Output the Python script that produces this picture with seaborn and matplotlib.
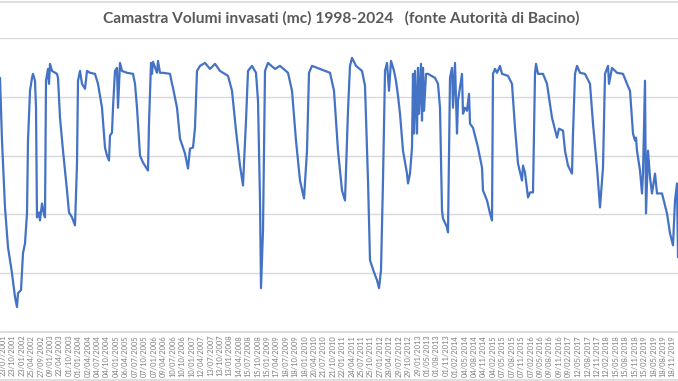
import pandas as pd
import seaborn as sns
import matplotlib.pyplot as plt

# ===============================
# Data (volumes in millions of mc)
# ===============================

date_rilievo = [
    "2001-06-23", "2001-07-13", "2001-08-12", "2001-09-11", "2001-10-21", "2001-11-20",
    "2001-12-10", "2001-12-20", "2002-01-19", "2002-02-08", "2002-02-28", "2002-03-20",
    "2002-03-30", "2002-04-19", "2002-05-09", "2002-05-19", "2002-06-08", "2002-06-18",
    "2002-06-28", "2002-07-18", "2002-07-28", "2002-08-17", "2002-09-06", "2002-09-16",
    "2002-09-26", "2002-10-16", "2002-10-26", "2002-11-05", "2002-11-25", "2003-01-14",
    "2003-01-24", "2003-02-13", "2003-03-15", "2003-04-24", "2003-05-14", "2003-06-13",
    "2003-07-13", "2003-08-02", "2003-08-12", "2003-09-01", "2003-09-21", "2003-10-21",
    "2003-11-10", "2003-12-10", "2004-01-29", "2004-02-28", "2004-04-08", "2004-05-08",
    "2004-05-28", "2004-06-17", "2004-06-27", "2004-07-17", "2004-07-27", "2004-08-16",
    "2004-09-05", "2004-09-15", "2004-10-05", "2004-10-25", "2004-12-14", "2005-02-12",
    "2005-03-04", "2005-03-24", "2005-04-23", "2005-05-23", "2005-07-12", "2005-07-22",
    "2005-08-11", "2005-08-21", "2005-08-31", "2005-10-10", "2005-10-20", "2005-11-09",
    "2005-12-09", "2006-02-17", "2006-03-09", "2006-03-19", "2006-04-28", "2006-05-28",
    "2006-07-17", "2006-08-16", "2006-09-05", "2006-10-05", "2006-10-25", "2006-11-14",
    "2006-12-14", "2007-02-02", "2007-03-24", "2007-05-13", "2007-07-02", "2007-09-20",
    "2007-10-30", "2007-12-09", "2008-01-18", "2008-02-17", "2008-03-18", "2008-04-07",
    "2008-05-17", "2008-06-26", "2008-07-16", "2008-08-05", "2008-08-15", "2008-09-04",
    "2008-09-24", "2008-10-24", "2009-01-02", "2009-02-21", "2009-05-12", "2009-06-21",
    "2009-07-31", "2009-09-09", "2009-10-19", "2009-11-18", "2009-12-08", "2010-01-07",
    "2010-03-28", "2010-07-06", "2010-08-15", "2010-09-24", "2010-11-03", "2010-12-03",
    "2011-01-02", "2011-01-22", "2011-02-11", "2011-03-23", "2011-05-22", "2011-06-21",
    "2011-07-21", "2011-08-10", "2011-09-19", "2011-10-19", "2011-11-08", "2011-11-28",
    "2011-12-18", "2012-01-07", "2012-01-27", "2012-02-16", "2012-03-07", "2012-04-06",
    "2012-04-26", "2012-05-16", "2012-06-05", "2012-07-05", "2012-08-14", "2012-08-24",
    "2012-09-13", "2012-10-03", "2012-10-13", "2012-10-23", "2012-11-02", "2012-11-22",
    "2012-12-02", "2012-12-12", "2013-01-01", "2013-01-11", "2013-01-21", "2013-01-31",
    "2013-02-20", "2013-03-12", "2013-05-21", "2013-06-20", "2013-07-10", "2013-07-30",
    "2013-08-09", "2013-09-18", "2013-09-28", "2013-10-08", "2013-10-18", "2013-11-07",
    "2013-11-17", "2013-12-07", "2013-12-27", "2014-01-06", "2014-02-15", "2014-02-25",
    "2014-03-17", "2014-04-06", "2014-04-26", "2014-05-06", "2014-06-05", "2014-07-25",
    "2014-09-03", "2014-09-13", "2014-10-23", "2014-11-22", "2014-12-12", "2014-12-22",
    "2015-01-11", "2015-01-31", "2015-03-02", "2015-03-22", "2015-05-21", "2015-06-30",
    "2015-07-30", "2015-08-29", "2015-10-08", "2015-10-18", "2015-11-07", "2015-12-07",
    "2015-12-27", "2016-01-26", "2016-02-15", "2016-02-25", "2016-03-16", "2016-05-05",
    "2016-06-14", "2016-08-03", "2016-09-22", "2016-10-12", "2016-11-21", "2016-12-11",
    "2017-01-10", "2017-02-19", "2017-03-01", "2017-03-21", "2017-04-10", "2017-05-10",
    "2017-06-29", "2017-08-18", "2017-09-17", "2017-10-27", "2017-11-26", "2017-12-26",
    "2018-01-15", "2018-02-14", "2018-02-24", "2018-03-26", "2018-05-15", "2018-07-14",
    "2018-08-23", "2018-09-22", "2018-10-22", "2018-11-11", "2018-11-21", "2018-12-01",
    "2018-12-31", "2019-01-20", "2019-01-30", "2019-02-19", "2019-03-01", "2019-03-21",
    "2019-04-10", "2019-04-30", "2019-05-30", "2019-06-19", "2019-08-08", "2019-09-27",
    "2019-10-27", "2019-11-26", "2019-12-16", "2020-01-05", "2020-01-15",
]

volume_mmc = [
    21.61, 16.27, 10.59, 7.20, 5.00, 2.97,
    2.12, 3.31, 3.56, 6.70, 7.54, 10.08,
    16.27, 20.51, 21.61, 21.95, 21.36, 19.07,
    9.75, 10.17, 9.49, 10.93, 10.00, 9.75,
    21.36, 22.37, 21.10, 22.80, 22.20, 21.95,
    21.61, 18.22, 15.42, 12.03, 10.17, 9.75,
    9.07, 14.32, 21.36, 22.20, 21.10, 20.68,
    22.20, 22.04, 21.95, 21.10, 19.07, 15.68,
    15.00, 14.58, 16.70, 16.95, 19.07, 22.20,
    22.46, 19.07, 22.88, 22.20, 22.04, 21.95,
    21.10, 19.07, 15.00, 14.41, 13.73, 17.71,
    22.88, 21.95, 22.97, 22.04, 23.05, 22.04,
    22.04, 21.95, 21.10, 20.76, 19.07, 16.44,
    15.17, 13.90, 15.59, 15.68, 17.37, 22.20,
    22.63, 22.88, 22.37, 22.80, 22.20, 21.78,
    20.51, 17.12, 14.15, 12.46, 17.97, 22.20,
    22.63, 22.04, 19.66, 11.19, 3.73, 8.64,
    22.20, 22.88, 22.37, 22.63, 22.04, 20.51,
    16.27, 12.88, 11.36, 15.42, 22.04, 22.63,
    22.37, 22.04, 20.51, 15.42, 12.03, 11.19,
    18.81, 22.63, 23.31, 22.63, 22.20, 20.93,
    12.88, 6.10, 5.08, 4.41, 3.73, 5.25,
    12.88, 22.20, 22.88, 20.51, 23.05, 22.20,
    21.36, 20.09, 18.56, 15.42, 13.47, 12.63,
    13.47, 15.68, 21.95, 16.87, 22.20, 16.87,
    22.46, 18.56, 22.80, 17.97, 22.46, 18.81,
    21.95, 21.95, 21.61, 21.10, 19.07, 10.34,
    9.66, 8.90, 8.47, 14.83, 21.61, 22.46,
    19.07, 22.88, 16.87, 19.66, 21.95, 18.56,
    19.07, 18.81, 20.25, 17.71, 17.37, 15.68,
    13.98, 12.03, 11.19, 10.08, 9.49, 21.95,
    22.37, 22.04, 22.63, 21.95, 21.78, 21.10,
    17.37, 14.32, 12.88, 14.15, 13.56, 11.44,
    11.87, 11.87, 21.95, 22.80, 21.95, 21.95,
    21.10, 18.22, 16.53, 17.29, 17.12, 15.42,
    14.15, 13.47, 16.87, 21.95, 22.63, 22.04,
    21.95, 21.10, 17.71, 13.98, 10.59, 13.98,
    21.95, 22.63, 21.10, 22.46, 22.04, 21.95,
    21.10, 20.51, 16.87, 16.27, 16.53, 15.42,
    13.73, 11.78, 13.47, 21.36, 10.08, 15.42,
    13.14, 11.78, 13.47, 11.78, 11.78, 10.08,
    8.39, 7.37, 11.19, 12.63, 6.36,
]

# category-axis labels as shown under the chart
etichette_x = [
    "23/07/2001", "23/10/2001", "23/01/2002", "25/04/2002", "27/09/2002", "09/01/2003",
    "22/04/2003", "01/10/2003", "01/01/2004", "02/04/2004", "04/07/2004", "04/10/2004",
    "04/01/2005", "06/04/2005", "07/07/2005", "07/10/2005", "07/01/2006", "09/04/2006",
    "10/07/2006", "10/10/2006", "10/01/2007", "12/04/2007", "13/07/2007", "13/10/2007",
    "13/01/2008", "14/04/2008", "15/07/2008", "15/10/2008", "15/01/2009", "17/04/2009",
    "18/07/2009", "18/10/2009", "18/01/2010", "20/04/2010", "21/07/2010", "21/10/2010",
    "22/01/2011", "24/04/2011", "25/07/2011", "25/10/2011", "27/01/2012", "28/04/2012",
    "29/07/2012", "29/10/2012", "29/01/2013", "01/05/2013", "01/08/2013", "01/11/2013",
    "01/02/2014", "04/05/2014", "04/08/2014", "04/11/2014", "04/02/2015", "07/05/2015",
    "07/08/2015", "07/11/2015", "07/02/2016", "09/05/2016", "09/08/2016", "09/11/2016",
    "09/02/2017", "12/05/2017", "12/08/2017", "12/11/2017", "12/02/2018", "15/05/2018",
    "15/08/2018", "15/11/2018", "15/02/2019", "18/05/2019", "18/08/2019", "18/11/2019",
]

titolo = "Camastra Volumi invasati (mc) 1998-2024   (fonte Autorità di Bacino)"

data = pd.DataFrame({
    "Data": pd.to_datetime(date_rilievo),
    "Volume": [v * 1e6 for v in volume_mmc],
})

# ===============================
# Plot
# ===============================

sns.set_theme(style="white")
plt.rcParams['font.family'] = ['Lato', 'DejaVu Sans']

fig = plt.figure(figsize=(6.78, 3.81), dpi=100)
ax = fig.add_axes([0.0, 0.1286, 1.0, 0.7717])

sns.lineplot(data=data, x="Data", y="Volume", ax=ax, color="#4472C4", linewidth=1.6)

ax.set_ylim(0, 25e6)
ax.set_yticks([0, 5e6, 10e6, 15e6, 20e6, 25e6])
ax.set_xlim(pd.Timestamp("2001-06-23"), pd.Timestamp("2020-01-15"))
ax.yaxis.grid(True, color="#d9d9d9", linewidth=1)
ax.set_axisbelow(True)
ax.tick_params(axis="y", left=False, labelleft=False)

# labels sit evenly spaced like an Excel category axis
tick_pos = pd.date_range(pd.Timestamp("2001-07-23"), pd.Timestamp("2019-11-18"),
                         periods=len(etichette_x))
ax.set_xticks(tick_pos)
ax.set_xticklabels(etichette_x, rotation=90, fontsize=5.4, color="#7f7f7f")
ax.tick_params(axis="x", length=0, pad=2)

for s in ["top", "left", "right"]:
    ax.spines[s].set_visible(False)
ax.spines["bottom"].set_color("#d9d9d9")
ax.set_xlabel("")
ax.set_ylabel("")

fig.text(0.503, 0.952, titolo, ha="center", va="center",
         fontsize=11.2, fontweight="bold", color="#595959")

# chart-area frame, only top and bottom edges are inside the crop
for yy in [0.996, 0.003]:
    fig.add_artist(plt.Line2D([0, 1], [yy, yy], transform=fig.transFigure,
                              color="#d9d9d9", linewidth=1.2))

fig.savefig("out.png", dpi=100)
